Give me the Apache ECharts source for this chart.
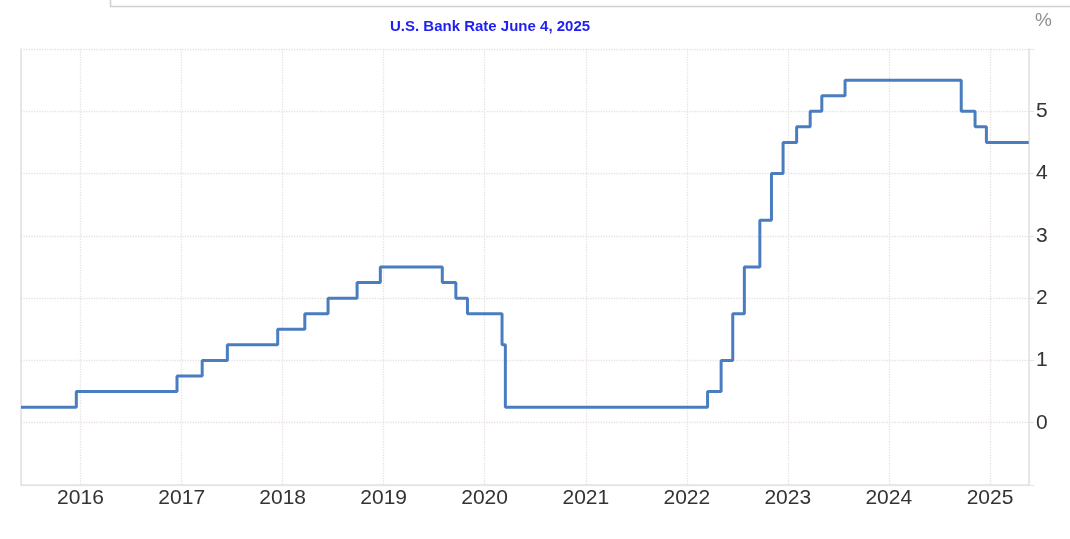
<!DOCTYPE html>
<html>
<head>
<meta charset="utf-8">
<script src="https://cdn.jsdelivr.net/npm/echarts@6/dist/echarts.min.js"></script>
<style>
  html, body { margin: 0; padding: 0; background: #fff; }
  #rate_con { width: 1070px; height: 539px; }
</style>
</head>
<body>
<div id="rate_con"></div>
<script>
// rate changes: date the new rate took effect, and the rate (%)
var changeDates = [
    '2015-05-31', '2015-12-17', '2016-12-15', '2017-03-16', '2017-06-15',
    '2017-12-14', '2018-03-22', '2018-06-14', '2018-09-27', '2018-12-20',
    '2019-08-01', '2019-09-19', '2019-10-31', '2020-03-04', '2020-03-16',
    '2022-03-17', '2022-05-05', '2022-06-16', '2022-07-28', '2022-09-22',
    '2022-11-03', '2022-12-15', '2023-02-02', '2023-03-23', '2023-05-04',
    '2023-07-27', '2024-09-19', '2024-11-08', '2024-12-19', '2025-05-21'
];
var rates = [
    0.25, 0.5, 0.75, 1.0, 1.25,
    1.5, 1.75, 2.0, 2.25, 2.5,
    2.25, 2.0, 1.75, 1.25, 0.25,
    0.5, 1.0, 1.75, 2.5, 3.25,
    4.0, 4.5, 4.75, 5.0, 5.25,
    5.5, 5.0, 4.75, 4.5, 4.5
];
var yTicks = ['0', '1', '2', '3', '4', '5'];

var chartTitle = 'U.S. Bank Rate June 4, 2025';
var unitLabel = '%';

var seriesData = changeDates.map(function (d, i) {
    return [d, rates[i]];
});

var rateChart = echarts.init(document.getElementById('rate_con'));

var gridLine = { show: true, lineStyle: { color: '#e8e0e2', type: 'dotted', width: 1.3 } };
var axisGrey = { color: '#e2e2e2', width: 1.5 };

var option = {
    backgroundColor: '#fff',
    animation: false,
    grid: { left: 21, right: 41, top: 49, bottom: 54, containLabel: false },
    xAxis: {
        type: 'time',
        min: '2015-05-31',
        max: '2025-05-22',
        minInterval: 365 * 86400000,
        maxInterval: 366 * 86400000,
        axisLine: { show: true, onZero: false, lineStyle: axisGrey },
        axisTick: { show: false },
        splitLine: gridLine,
        axisLabel: {
            showMinLabel: false,
            showMaxLabel: false,
            color: '#333',
            fontSize: 21,
            fontFamily: 'Liberation Sans, Arial, sans-serif',
            margin: 3,
            formatter: '{yyyy}'
        }
    },
    yAxis: [
        {
            type: 'value',
            position: 'right',
            min: -1,
            max: 6,
            interval: 1,
            axisLine: { show: true, lineStyle: axisGrey },
            axisTick: { show: true, length: 5, lineStyle: { color: '#e8e0e2' } },
            splitLine: gridLine,
            axisLabel: {
                color: '#333',
                fontSize: 21,
                fontFamily: 'Liberation Sans, Arial, sans-serif',
                margin: 7,
                formatter: function (v) {
                    return yTicks.indexOf(String(v)) >= 0 ? String(v) : '';
                }
            }
        },
        {
            // left border of the plot only
            type: 'value',
            position: 'left',
            min: -1,
            max: 6,
            interval: 1,
            axisLine: { show: true, lineStyle: axisGrey },
            axisTick: { show: false },
            axisLabel: { show: false },
            splitLine: { show: false }
        }
    ],
    graphic: [
        {
            type: 'text',
            left: 390,
            top: 19,
            style: {
                text: chartTitle,
                fill: '#1f1ff0',
                font: 'bold 15px "Liberation Sans Narrow", "Arial Narrow", "Liberation Sans", sans-serif'
            }
        },
        {
            type: 'text',
            left: 1035,
            top: 11,
            style: {
                text: unitLabel,
                fill: '#8f8f8f',
                font: '19px "Liberation Sans", Arial, sans-serif'
            }
        },
        {
            type: 'polyline',
            shape: { points: [[110.5, 0], [110.5, 6.5], [1070, 6.5]] },
            style: { stroke: '#cfcfcf', fill: null, lineWidth: 1.5 }
        }
    ],
    series: [
        {
            name: chartTitle,
            type: 'line',
            step: 'end',
            showSymbol: false,
            data: seriesData,
            lineStyle: { color: '#4a7dbf', width: 3 }
        }
    ]
};
rateChart.setOption(option);
</script>
</body>
</html>
